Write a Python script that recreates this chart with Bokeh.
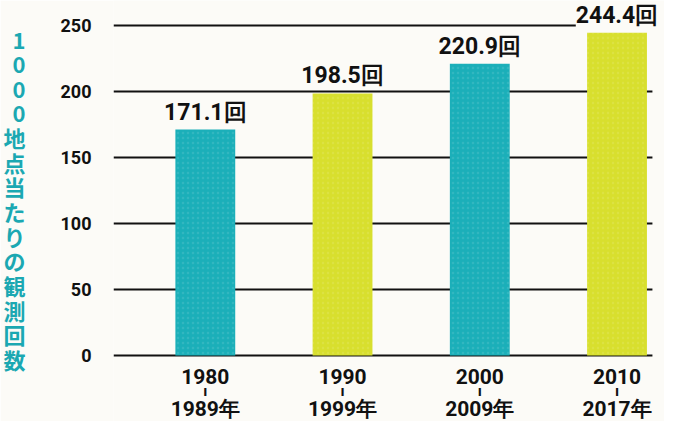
from bokeh.plotting import figure
from bokeh.models import ColumnDataSource, Range1d, FixedTicker, LabelSet
from bokeh.core.properties import value
from bokeh.embed import file_html
from bokeh.resources import INLINE

# ---- data ----
period_start = ["1980", "1990", "2000", "2010"]
period_end = ["1989年", "1999年", "2009年", "2017年"]
counts = [171.1, 198.5, 220.9, 244.4]
colors = ["#1BAFB9", "#D8DF2E", "#1BAFB9", "#D8DF2E"]
y_ticks = [0, 50, 100, 150, 200, 250]
y_label = "1000地点当たりの観測回数"

BG = "#FCFBF7"
INK = "#111111"
TEAL = "#1BA8B2"

# layout extents (data units)
X_LO, X_HI, X_END = -0.669, 3.258, 3.346
Y_START, Y_END = -50.0, 268.9

idx = list(range(len(counts)))
src = ColumnDataSource(dict(
    x=idx,
    top=counts,
    base=[0] * len(counts),
    color=colors,
    label=[f"{v:.1f}回" for v in counts],
    start=period_start,
    sep=["ı"] * len(counts),
    end=period_end,
))
grid_src = ColumnDataSource(dict(
    y=y_ticks, x0=[X_LO] * len(y_ticks), x1=[X_HI] * len(y_ticks)))

p = figure(width=664, height=421, output_backend="svg", toolbar_location=None,
           x_range=Range1d(X_LO, X_END), y_range=Range1d(Y_START, Y_END),
           min_border_left=112, min_border_right=0, min_border_top=0,
           min_border_bottom=0)
p.background_fill_color = BG
p.border_fill_color = BG
p.outline_line_color = None
p.grid.visible = False

# grid lines (under the bars)
p.segment(x0="x0", x1="x1", y0="y", y1="y", source=grid_src,
          line_color=INK, line_width=2)

p.vbar(x="x", top="top", width=0.436, bottom=0, source=src,
       fill_color="color", line_color=None,
       hatch_pattern="dot", hatch_color="white", hatch_alpha=0.1,
       hatch_scale=5, hatch_weight=1)

labels = LabelSet(x="x", y="top", text="label", source=src,
                  text_align="center", text_baseline="alphabetic", y_offset=10,
                  text_font=value("Roboto"), text_font_style="bold",
                  text_font_size="23px", text_color=INK,
                  background_fill_color=BG)
p.add_layout(labels)

# x category labels (three rows under the base line)
for field, off, size in (("start", -21, "21px"), ("sep", -36, "15px"),
                         ("end", -54, "21px")):
    p.add_layout(LabelSet(x="x", y="base", text=field, source=src,
                          text_align="center", text_baseline="middle",
                          y_offset=off, text_font=value("Roboto"),
                          text_font_style="bold", text_font_size=size,
                          text_color=INK))

# y axis
p.yaxis.ticker = FixedTicker(ticks=y_ticks)
p.yaxis.axis_line_color = None
p.yaxis.major_tick_line_color = None
p.yaxis.minor_tick_line_color = None
p.yaxis.major_label_standoff = 16
p.yaxis.major_label_text_font = "Roboto"
p.yaxis.major_label_text_font_style = "bold"
p.yaxis.major_label_text_font_size = "18px"
p.yaxis.major_label_text_color = INK
p.yaxis.axis_label = "\n".join(y_label) + "\n"
p.yaxis.axis_label_orientation = "horizontal"
p.yaxis.axis_label_text_font = "Noto Sans CJK JP"
p.yaxis.axis_label_text_font_style = "bold"
p.yaxis.axis_label_text_font_size = "22px"
p.yaxis.axis_label_text_color = TEAL
p.yaxis.axis_label_text_line_height = 0.77
p.yaxis.axis_label_standoff = 32
p.yaxis.axis_label_text_align = "center"

p.xaxis.visible = False

open("out.html", "w").write(file_html(p, INLINE))
